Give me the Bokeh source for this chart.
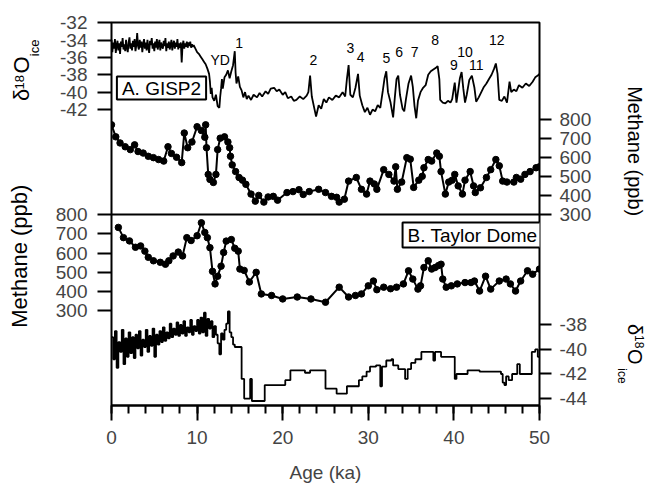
import math
from bokeh.plotting import figure
from bokeh.models import Range1d, LinearAxis, FixedTicker, Label, Span
from bokeh.embed import file_html
from bokeh.resources import INLINE

# ---------------- data ----------------
# GISP2 d18O (permil)
gisp_age = [0.0,0.1,0.2,0.3,0.4,0.5,0.6,0.7,0.8,0.9,
 1.0,1.1,1.2,1.3,1.4,1.5,1.6,1.7,1.8,1.9,
 2.0,2.1,2.2,2.3,2.4,2.5,2.6,2.7,2.8,2.9,
 3.0,3.1,3.2,3.3,3.4,3.5,3.6,3.7,3.8,3.9,
 4.0,4.1,4.2,4.3,4.4,4.5,4.6,4.7,4.8,4.9,
 5.0,5.1,5.2,5.3,5.4,5.5,5.6,5.7,5.8,5.9,
 6.0,6.1,6.2,6.3,6.4,6.5,6.6,6.7,6.8,6.9,
 7.0,7.1,7.2,7.3,7.4,7.5,7.6,7.7,7.8,7.9,
 8.0,8.1,8.2,8.3,8.4,8.5,8.6,8.7,8.8,8.9,
 9.0,9.1,9.2,9.3,9.4,9.5,9.6,9.8,
 10.0,10.2,10.4,10.6,10.8,11.0,11.2,11.4,11.5,11.6,
 11.7,11.8,12.0,12.2,12.4,12.6,12.7,12.8,12.9,13.0,
 13.2,13.4,13.6,13.8,14.0,14.2,14.4,14.5,14.6,14.8,
 15.0,15.2,15.4,15.6,15.8,16.0,16.3,16.6,17.0,17.3,
 17.6,18.0,18.3,18.6,19.0,19.3,19.6,20.0,20.3,20.6,
 21.0,21.3,21.6,22.0,22.4,22.8,23.0,23.2,23.4,23.7,
 23.9,24.2,24.5,24.8,25.1,25.4,25.8,26.2,26.6,27.0,
 27.3,27.5,27.7,27.9,28.2,28.5,28.8,29.0,29.3,29.6,
 29.9,30.2,30.5,30.8,31.1,31.4,31.7,31.9,32.1,32.3,
 32.6,32.9,33.1,33.3,33.5,33.7,34.0,34.2,34.4,34.7,
 35.0,35.2,35.4,35.6,35.8,36.1,36.4,36.7,37.0,37.3,
 37.6,37.9,38.1,38.3,38.4,38.7,39.0,39.3,39.6,39.8,
 40.0,40.1,40.3,40.5,40.7,40.9,41.1,41.3,41.5,41.8,
 42.1,42.4,42.6,42.9,43.2,43.5,43.8,44.1,44.4,44.7,
 44.9,45.1,45.3,45.6,45.9,46.2,46.5,46.7,47.0,47.3,
 47.6,48.0,48.4,48.8,49.2,49.5,49.8,50.0]
gisp_d18o = [-34.0,-35.4,-34.3,-35.0,-33.9,-35.5,-34.6,-34.1,-35.2,-34.4,
 -35.6,-34.2,-34.8,-33.8,-35.1,-34.5,-35.3,-34.0,-34.9,-35.4,
 -34.3,-33.7,-35.0,-34.4,-35.2,-34.1,-34.8,-33.9,-35.3,-34.6,
 -33.2,-34.7,-35.1,-34.0,-34.9,-34.2,-35.4,-34.5,-33.9,-35.0,
 -34.3,-35.2,-34.0,-34.8,-35.5,-34.1,-34.6,-33.8,-35.0,-34.4,
 -35.3,-34.2,-34.9,-33.9,-35.1,-34.5,-34.0,-35.2,-34.3,-34.8,
 -35.0,-34.1,-34.7,-33.8,-35.3,-34.4,-34.9,-34.2,-35.1,-34.6,
 -34.0,-35.2,-34.5,-34.1,-35.0,-34.3,-34.8,-33.9,-35.1,-34.4,
 -34.9,-34.3,-36.6,-34.6,-34.1,-35.0,-34.4,-34.8,-34.2,-34.9,
 -34.3,-34.7,-34.2,-34.9,-34.5,-34.8,-34.6,-35.0,
 -35.4,-35.6,-35.9,-36.2,-36.5,-36.8,-37.3,-37.9,-38.8,-40.2,
 -39.5,-40.6,-41.0,-40.3,-41.6,-41.8,-40.5,-39.6,-38.5,-39.6,
 -38.3,-38.0,-37.5,-38.4,-37.6,-36.9,-35.3,-37.8,-39.0,-38.2,
 -39.4,-39.8,-40.6,-40.0,-40.8,-40.4,-40.9,-40.3,-40.6,-40.1,
 -40.5,-39.9,-40.2,-39.6,-39.5,-39.9,-39.7,-40.3,-40.0,-40.7,
 -40.5,-41.0,-40.9,-40.5,-40.8,-40.4,-40.0,-38.1,-40.5,-41.9,
 -42.8,-41.5,-41.9,-40.8,-41.2,-40.6,-40.9,-40.4,-40.6,-40.0,
 -40.5,-38.5,-36.9,-40.3,-40.6,-39.5,-37.9,-40.4,-41.5,-42.3,
 -41.8,-42.6,-42.0,-42.2,-41.5,-41.8,-39.8,-38.4,-37.6,-40.0,
 -41.2,-42.9,-40.6,-38.5,-38.1,-40.3,-41.9,-42.2,-40.8,-39.0,
 -38.1,-39.4,-41.6,-43.0,-41.0,-40.0,-39.5,-39.2,-38.0,-37.6,
 -37.4,-37.2,-37.0,-38.5,-40.9,-41.2,-41.3,-41.0,-41.2,-40.8,
 -39.5,-38.9,-41.2,-39.8,-38.4,-37.7,-39.6,-41.2,-40.3,-38.6,
 -38.1,-39.5,-41.1,-40.6,-40.0,-39.4,-39.0,-38.5,-38.0,-37.3,
 -36.7,-37.9,-40.9,-41.0,-40.5,-41.2,-38.8,-40.0,-39.7,-39.9,
 -39.2,-39.5,-39.0,-39.3,-38.8,-38.3,-38.1,-37.9]

# GISP2 methane (ppb)
gisp_ch4_age = [0.0,0.5,1.0,1.6,2.2,2.7,3.1,3.7,4.3,4.9,5.5,6.1,6.6,7.0,7.6,8.2,8.5,8.9,9.4,10.0,
 10.5,10.9,11.0,11.1,11.3,11.5,11.9,12.2,12.4,12.7,13.2,13.6,13.8,13.9,14.1,14.5,14.9,15.3,15.7,16.3,
 16.8,17.2,17.8,18.3,18.9,19.4,20.5,21.2,21.9,22.4,23.1,24.2,25.0,25.7,26.3,26.6,27.2,27.7,28.6,29.2,
 29.8,30.2,30.7,31.0,31.8,32.4,33.0,33.2,33.4,33.9,34.5,34.9,35.3,35.9,36.3,36.5,37.0,37.4,38.0,38.3,
 38.5,39.0,39.4,39.8,40.1,40.5,41.0,41.3,41.9,42.3,42.5,43.1,43.8,44.3,44.9,45.3,45.7,46.2,47.0,47.3,
 47.8,48.3,48.9,49.6,50.0]
gisp_ch4 = [770,707,675,655,640,665,630,622,605,598,588,580,655,620,600,572,727,650,680,760,
 740,705,770,650,510,484,468,510,640,700,707,680,650,605,560,525,494,480,458,407,
 370,400,365,392,395,375,415,420,430,405,420,432,415,395,390,365,380,475,494,432,
 407,475,460,432,535,510,475,550,432,470,598,590,442,480,500,545,588,580,622,605,
 525,407,470,480,510,450,407,480,525,450,415,440,494,535,588,555,475,470,470,494,
 485,510,525,545,550]

# Taylor Dome methane (ppb)
td_ch4_age = [0.8,1.4,2.1,2.8,3.4,3.9,4.3,4.9,5.7,6.3,6.7,7.2,7.8,8.3,8.8,9.3,10.0,10.5,10.9,11.2,
 11.5,11.8,12.1,12.4,12.8,13.1,13.4,14.0,14.4,14.8,15.0,15.5,16.1,16.9,17.5,18.7,20.0,21.7,23.3,25.0,
 26.6,27.7,28.5,29.2,30.0,30.6,31.0,31.8,32.6,33.3,34.1,34.7,35.2,35.8,36.1,36.5,37.0,37.4,37.8,38.2,
 38.5,38.7,39.1,39.7,40.4,41.3,42.0,42.4,43.0,43.7,44.3,45.3,46.1,46.6,47.2,47.8,48.6,49.2,50.0]
td_ch4 = [733,680,663,630,637,610,578,560,552,542,560,585,605,585,680,665,690,757,707,680,
 628,505,440,480,532,603,662,670,625,610,517,510,450,500,388,380,362,372,362,345,
 423,372,380,388,430,455,410,423,415,423,440,508,465,413,430,525,560,517,525,535,
 542,465,423,430,440,447,447,455,403,480,413,455,465,440,403,455,508,490,517]

# Taylor Dome d18O (permil)
td_age = [0.0,0.2,0.4,0.6,0.8,1.0,1.2,1.4,1.6,1.8,
 2.0,2.2,2.4,2.6,2.8,3.0,3.2,3.4,3.6,3.8,
 4.0,4.2,4.4,4.6,4.8,5.0,5.2,5.4,5.6,5.8,
 6.0,6.2,6.4,6.6,6.8,7.0,7.2,7.4,7.6,7.8,
 8.0,8.2,8.4,8.6,8.8,9.0,9.2,9.4,9.6,9.8,
 10.0,10.2,10.4,10.6,10.8,11.0,11.2,11.4,11.6,11.8,
 12.0,12.2,12.4,12.6,12.8,13.0,13.2,13.4,13.6,13.8,
 14.0,14.2,14.4,
 15.2,15.5,16.2,16.4,17.9,20.3,20.9,22.6,23.2,25.0,26.3,27.5,28.9,29.3,29.8,30.2,
 30.9,31.4,31.6,32.1,32.7,32.9,33.5,34.3,34.6,35.0,35.5,36.2,37.4,37.6,37.8,38.5,
 40.1,40.3,41.6,43.0,45.5,45.7,45.9,46.1,46.4,46.8,47.4,47.7,48.9,49.1,49.5,49.8,50.0]
td_d18o = [-39.0,-40.8,-38.5,-41.5,-39.4,-40.2,-38.4,-41.2,-39.1,-40.6,
 -38.6,-40.3,-39.0,-40.7,-38.8,-39.9,-38.5,-40.5,-39.2,-39.8,
 -38.4,-40.2,-38.9,-39.7,-38.3,-40.6,-38.8,-39.6,-38.5,-39.4,
 -38.2,-39.3,-38.6,-39.1,-37.9,-39.0,-38.3,-38.8,-37.8,-38.9,
 -38.0,-38.7,-37.7,-38.9,-38.2,-38.6,-37.6,-38.8,-38.1,-38.5,
 -37.6,-38.7,-37.4,-38.6,-37.0,-38.9,-37.5,-38.3,-37.7,-39.0,
 -38.1,-38.8,-39.5,-40.4,-38.7,-39.2,-38.4,-37.9,-36.9,-38.6,
 -39.0,-39.6,-39.8,
 -42.4,-44.0,-42.4,-44.2,-42.9,-42.5,-41.7,-41.9,-41.7,-43.2,-43.6,-43.0,-42.5,-42.2,-41.8,-41.4,
 -41.3,-43.0,-41.4,-40.9,-40.8,-41.3,-41.6,-42.4,-41.6,-41.1,-40.8,-40.2,-40.2,-40.9,-40.2,-40.6,
 -42.4,-42.0,-41.7,-41.8,-42.0,-42.7,-42.9,-42.2,-42.5,-42.0,-41.2,-42.0,-42.0,-40.2,-40.0,-40.6,-40.6]

# event labels (age, label)
event_age = [12.7, 14.9, 23.6, 27.9, 29.1, 32.1, 33.6, 35.4, 37.8, 40.0, 41.3, 42.6, 45.0]
event_lab = ["YD", "1", "2", "3", "4", "5", "6", "7", "8", "9", "10", "11", "12"]

x_ticks = [0, 10, 20, 30, 40, 50]
x_minor = [0, 2, 4, 6, 8, 10, 12, 14, 16, 18, 20, 22, 24, 26, 28, 30, 32, 34, 36, 38, 40, 42, 44, 46, 48, 50]
d18a_ticks = [-42, -40, -38, -36, -34, -32]
ch4_ticks = [300, 400, 500, 600, 700, 800]
d18b_ticks = [-44, -42, -40, -38]

# ---------------- layout ----------------
W, H = 648, 485
FL, FR, FT, FB = 111, 542, 22, 407
FH = FB - FT
FC = (FT + FB) / 2.0
FONT = "Liberation Sans"

def rng(v1, p1, v2, p2):
    k = (v2 - v1) / (p2 - p1)
    return v1 + (FB - p1) * k, v1 + (FT - p1) * k

ch4b_base = rng(800, 215, 300, 312)
ch4b_r = (ch4b_base[0] - 1.0, ch4b_base[1] + 1.0)   # main (left) range
d18a_r = rng(-32, 22, -42, 109.5)
ch4a_base = rng(800, 119, 300, 215)
ch4a_r = (ch4a_base[0] - 1.0, ch4a_base[1] + 1.0)
d18b_r = rng(-38, 326, -44, 400)

def conv(v, src, dst):
    f = (v - src[0]) / (src[1] - src[0])
    return int(round(dst[0] + f * (dst[1] - dst[0])))

p = figure(width=W, height=H, output_backend="svg", toolbar_location=None,
           x_range=Range1d(0, 50), y_range=Range1d(*ch4b_r),
           min_border_left=FL, min_border_right=W - FR,
           min_border_top=FT, min_border_bottom=H - FB,
           background_fill_color="white", border_fill_color="white")
p.extra_y_ranges = {"d18a": Range1d(*d18a_r), "ch4a": Range1d(*ch4a_r),
                    "d18b": Range1d(*d18b_r)}
p.xgrid.visible = False
p.ygrid.visible = False
p.outline_line_color = "black"
p.outline_line_width = 2
p.outline_line_alpha = 1

# bottom axis
xa = p.xaxis[0]
xa.ticker = FixedTicker(ticks=x_ticks, minor_ticks=x_minor)
xa.axis_label = "Age (ka)"
xa.axis_label_text_font = FONT
xa.axis_label_text_font_style = "normal"
xa.axis_label_text_font_size = "19px"
xa.axis_label_standoff = 15
xa.major_label_text_font = FONT
xa.major_label_text_font_size = "19px"
xa.major_label_standoff = 10
xa.major_tick_out = 15
xa.major_tick_in = 0
xa.minor_tick_out = 8
xa.minor_tick_in = 0
xa.major_tick_line_width = 2
xa.minor_tick_line_width = 2
xa.axis_line_width = 2

# left axis: Taylor Dome methane + GISP2 d18O ticks
ya = p.yaxis[0]
left_extra = {conv(v, d18a_r, ch4b_base): str(v) for v in d18a_ticks}
ya.ticker = FixedTicker(ticks=ch4_ticks + list(left_extra.keys()), minor_ticks=[])
ya.major_label_overrides = left_extra
ya.major_label_text_font = FONT
ya.major_label_text_font_size = "19px"
ya.major_label_standoff = 10
ya.major_tick_out = 14
ya.major_tick_in = 0
ya.minor_tick_out = 0
ya.minor_tick_in = 0
ya.major_tick_line_width = 2
ya.axis_line_color = None

# right axis: GISP2 methane + Taylor Dome d18O ticks
right_extra = {conv(v, d18b_r, ch4a_base): str(v) for v in d18b_ticks}
ra = LinearAxis(y_range_name="ch4a",
                ticker=FixedTicker(ticks=ch4_ticks + list(right_extra.keys()), minor_ticks=[]))
ra.major_label_overrides = right_extra
ra.major_label_text_font = FONT
ra.major_label_text_font_size = "19px"
ra.major_label_standoff = 8
ra.major_tick_out = 12
ra.major_tick_in = 0
ra.minor_tick_out = 0
ra.minor_tick_in = 0
ra.major_tick_line_width = 2
ra.axis_line_color = None
p.add_layout(ra, "right")

# divider between panels
p.add_layout(Span(location=800, dimension="width", line_color="black", line_width=2))

# series
p.line(gisp_age, gisp_d18o, y_range_name="d18a", line_color="black", line_width=1.8)
p.line(gisp_ch4_age, gisp_ch4, y_range_name="ch4a", line_color="black", line_width=2)
p.scatter(gisp_ch4_age, gisp_ch4, y_range_name="ch4a", size=6.5, color="black")
p.line(td_ch4_age, td_ch4, line_color="black", line_width=2)
p.scatter(td_ch4_age, td_ch4, size=6.5, color="black")
p.step(td_age, td_d18o, y_range_name="d18b", mode="after", line_color="black", line_width=1.8)

# ---------------- text inside the frame ----------------
def ay(py):
    return ch4b_r[0] + (FB - py) / FH * (ch4b_r[1] - ch4b_r[0])

def lab(px, py, text, size, **kw):
    p.add_layout(Label(x=px - FL, y=FB - py, x_units="screen", y_units="screen",
                       text=text, text_font=FONT, text_font_size=size, text_color="black",
                       text_align="center", text_baseline="middle", **kw))

event_py = [60, 43, 60, 48, 57, 58, 52, 52, 40, 65, 52, 65, 40]
for a, t, py in zip(event_age, event_lab, event_py):
    p.add_layout(Label(x=a, y=ay(py), text=t, text_font=FONT, text_font_size="14px",
                       text_align="center", text_baseline="middle", text_color="black"))

lab(161, 89.5, "A. GISP2", "19px", border_line_color="black", border_line_width=2,
    background_fill_color="white", padding=(5, 1))
lab(472, 236.5, "B. Taylor Dome", "19px", border_line_color="black", border_line_width=2,
    background_fill_color="white", padding=(5, 2))

# ---------------- axis titles (label-only axes in the side panels) ----------------
ASC, DESC, PAD = 0.905, 0.212, 3.0
MAIN_LEFT_EXT = 14 + 10 + 31.7
MAIN_RIGHT_EXT = 12 + 8 + 31.7

def spacing(width, fs):
    # invisible spacing (em spaces + no-break spaces) of about `width` px
    if width <= 0:
        return ""
    n_em = int(width // fs)
    rest = width - n_em * fs
    n_nb = int(round(rest / (0.278 * fs)))
    return "\u2003" * n_em + "\u00a0" * n_nb

def placed(text, fs, cy, side):
    # axis labels are centred on the frame; shift the visible text to centre cy
    d = cy - FC
    if side == "left":      # reads bottom -> top, starts at the bottom
        return text + spacing(2 * d, fs) if d > 0 else spacing(-2 * d, fs) + text
    else:                   # reads top -> bottom, starts at the top
        return spacing(2 * d, fs) + text if d > 0 else text + spacing(-2 * d, fs)

def label_axis(text, fs, standoff):
    a = LinearAxis(ticker=FixedTicker(ticks=[], minor_ticks=[]), axis_line_color=None,
                   major_tick_out=0, major_tick_in=0, minor_tick_out=0, minor_tick_in=0,
                   major_label_standoff=0)
    a.axis_label = text
    a.axis_label_text_font = FONT
    a.axis_label_text_font_style = "normal"
    a.axis_label_text_font_size = "%dpx" % fs
    a.axis_label_text_color = "black"
    a.axis_label_standoff = standoff
    return a

# left: (text, size, baseline_x, centre_y); glyph tops face left
left_items = [("ice", 13, 42, 48.5), ("18", 13, 27, 82), ("\u03b4", 22, 33, 96),
              ("O", 22, 33, 66.5), ("Methane (ppb)", 22, 31, 258)]
left_items.sort(key=lambda it: -(it[2] - ASC * it[1]))
x0 = FL - MAIN_LEFT_EXT
for text, fs, base, cy in left_items:
    s = int(round(x0 - base - DESC * fs))
    p.add_layout(label_axis(placed(text, fs, cy, "left"), fs, s), "left")
    x0 -= s + (ASC + DESC) * fs + PAD

# right: glyph tops face right
right_items = [("ice", 12, 616, 377), ("\u03b4", 20, 626, 331), ("O", 20, 626, 357),
               ("Methane (ppb)", 20, 626, 152), ("18", 12, 633, 343)]
right_items.sort(key=lambda it: it[2] + ASC * it[1])
x0 = FR + MAIN_RIGHT_EXT
for text, fs, base, cy in right_items:
    s = int(round(base - DESC * fs - x0))
    p.add_layout(label_axis(placed(text, fs, cy, "right"), fs, s), "right")
    x0 += s + (ASC + DESC) * fs + PAD

open("out.html", "w").write(file_html(p, INLINE))
